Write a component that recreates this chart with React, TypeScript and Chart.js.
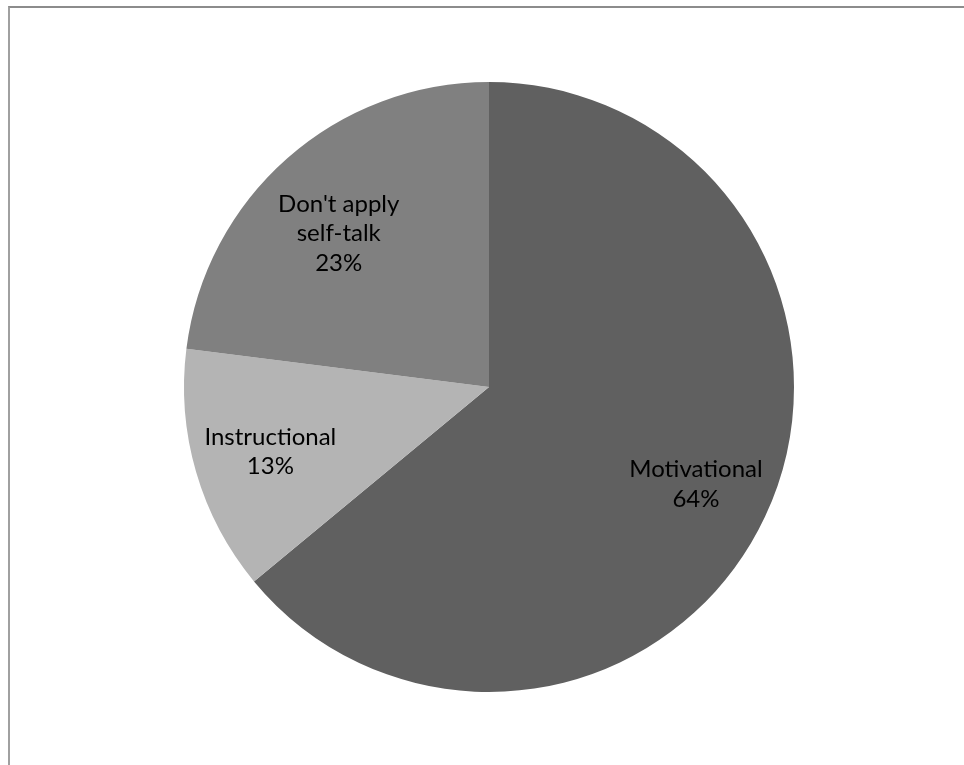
import React, { useEffect, useRef } from "react";
import { Chart, registerables } from "chart.js";

Chart.register(...registerables);

const categories = ["Motivational", "Instructional", "Don't apply self-talk"];
const labelLines = [["Motivational", "64%"], ["Instructional", "13%"], ["Don't apply", "self-talk", "23%"]];
const values = [64, 13, 23];
const colors = ["#606060", "#b4b4b4", "#808080"];

// label placement tweaks (pixels), separate from data
const labelShift = [[0, 0], [1, 1], [1, 18]];

const labelPlugin = {
  id: "sliceLabels",
  afterDatasetsDraw(chart: any) {
    const ctx = chart.ctx;
    const meta = chart.getDatasetMeta(0);
    ctx.save();
    ctx.font = "24px Lato, 'Open Sans', sans-serif";
    ctx.fillStyle = "#000";
    ctx.textAlign = "center";
    ctx.textBaseline = "middle";
    const lh = 29.5;
    meta.data.forEach((arc: any, i: number) => {
      const p = arc.getProps(["x", "y", "startAngle", "endAngle", "outerRadius"], true);
      const mid = (p.startAngle + p.endAngle) / 2;
      const r = p.outerRadius * 0.75;
      const cx = p.x + Math.cos(mid) * r + labelShift[i][0];
      const cy = p.y + Math.sin(mid) * r + labelShift[i][1];
      const lines = labelLines[i];
      const y0 = cy - ((lines.length - 1) * lh) / 2;
      lines.forEach((t, k) => ctx.fillText(t, cx, y0 + k * lh));
    });
    ctx.restore();
  },
};

export default function App() {
  const ref = useRef<HTMLCanvasElement>(null);
  useEffect(() => {
    if (!ref.current) return;
    const chart = new Chart(ref.current, {
      type: "pie",
      data: {
        labels: categories,
        datasets: [
          {
            data: values,
            backgroundColor: colors,
            borderWidth: 0,
            hoverOffset: 0,
            offset: 0,
          },
        ],
      },
      options: {
        animation: false,
        responsive: false,
        maintainAspectRatio: false,
        layout: { padding: { left: 184, right: 170, top: 82, bottom: 73 } },
        plugins: {
          legend: { display: false },
          tooltip: { enabled: false },
        },
        events: [],
      },
      plugins: [labelPlugin],
    });
    return () => chart.destroy();
  }, []);
  return (
    <div style={{ position: "absolute", left: 0, top: 0, width: 964, height: 765, background: "#fff", overflow: "hidden" }}>
      <div
        style={{
          position: "absolute",
          left: 8,
          top: 6,
          width: 964,
          height: 800,
          borderTop: "2px solid #8c8c8c",
          borderLeft: "2px solid #a0a0a0",
        }}
      />
      <canvas ref={ref} width={964} height={765} style={{ position: "absolute", left: 0, top: 0 }} />
    </div>
  );
}
